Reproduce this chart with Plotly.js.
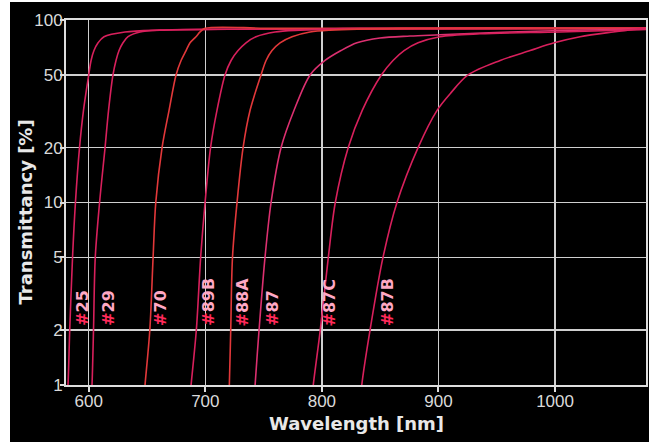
<!DOCTYPE html>
<html>
<head>
<meta charset="utf-8">
<script src="https://cdn.plot.ly/plotly-3.0.1.min.js"></script>
<style>
html,body{margin:0;padding:0;background:#ffffff;}
#chart{position:absolute;left:10px;top:2px;width:639px;height:440px;}
</style>
</head>
<body>
<div id="chart"></div>
<script>
// Filter transmittance curves (wavelength nm, transmittance %)
const wl25 = [581.5, 582.2, 583.7, 586.1, 588.6, 592.1, 595.5, 600, 602, 604.5, 608, 613.1, 631.1, 661, 720, 1078];
const t25  = [0.9, 1, 2, 5, 10, 20, 32, 50, 60, 68, 75, 81, 86, 88, 89, 90];

const wl29 = [602.3, 602.8, 604.1, 605.6, 609.3, 614, 617, 620.8, 623.4, 626, 629.4, 633.7, 644, 661.2, 720, 1078];
const t29  = [0.9, 1, 2, 5, 10, 20, 32, 50, 60, 68, 75, 81, 86, 88, 89, 90];

const wl70 = [647.8, 648.3, 652.4, 655.2, 657.5, 662.9, 668.9, 674.9, 679.2, 683.5, 686.9, 692, 695.5, 699.8, 760, 1078];
const t70  = [0.9, 1, 2, 5, 10, 20, 32, 50, 60, 68, 75, 81, 86, 90, 90, 90];

const wl89B = [687.2, 687.8, 692.3, 696, 699.8, 704.5, 710, 716.9, 722.1, 728.1, 734.9, 743.5, 759.8, 781.3, 832.7, 1078];
const t89B  = [0.9, 1, 2, 5, 10, 20, 32, 50, 60, 68, 75, 81, 86, 88, 90, 90];

const wl88A = [720.3, 720.6, 721.8, 723.3, 727.2, 732.4, 738.4, 747.8, 752.1, 757.2, 764.1, 774.4, 789.8, 807, 867, 1078];
const t88A  = [0.9, 1, 2, 5, 10, 20, 32, 50, 60, 68, 75, 81, 86, 88, 90, 90];

const wl87 = [742.3, 742.7, 746.1, 751.2, 756.4, 765, 776.1, 789.9, 802.7, 816.4, 830.1, 849.9, 875.6, 901.3, 961.3, 1038.6, 1078];
const t87  = [0.9, 1, 2, 5, 10, 20, 32, 50, 60, 68, 75, 79.7, 81.7, 83, 86, 88.5, 89.5];

const wl87C = [792, 792.6, 798.6, 805.5, 811.5, 822.6, 834.6, 851, 861, 870.5, 882.5, 901.3, 935.6, 1004.3, 1072.9, 1078];
const t87C  = [0.9, 1, 2, 5, 10, 20, 32, 50, 60, 68, 75, 81, 84, 86, 88.5, 88.7];

const wl87B = [833.6, 834.2, 841.3, 852.4, 864.4, 882.5, 898.8, 910.8, 925.4, 952.9, 978.6, 999.2, 1021.5, 1049.8, 1075.5, 1078];
const t87B  = [0.9, 1, 2, 5, 10, 20, 32, 40, 50, 60, 68, 75, 81, 86, 90, 90];

const filterNames = ['25', '29', '70', '89B', '88A', '87', '87C', '87B'];
const labelWl = [594, 616.3, 661, 702, 732.2, 757, 806.9, 855.8];

const yTickVals = [1, 2, 5, 10, 20, 50, 100];
const yTickText = ['1', '2', '5', '10', '20', '50', '100'];
const xTickVals = [600, 700, 800, 900, 1000];
const xTickText = ['600', '700', '800', '900', '1000'];

const series = [
  [wl25, t25, '#d8205c'],
  [wl29, t29, '#d8205c'],
  [wl70, t70, '#e2383a'],
  [wl89B, t89B, '#d8205c'],
  [wl88A, t88A, '#e2383a'],
  [wl87, t87, '#dc3070'],
  [wl87C, t87C, '#d8205c'],
  [wl87B, t87B, '#d8205c']
];

const traces = series.map((s, i) => ({
  x: s[0], y: s[1], type: 'scatter', mode: 'lines',
  name: '#' + filterNames[i],
  line: {color: s[2], width: 1.6, shape: 'spline', smoothing: 0.9},
  hoverinfo: 'skip'
}));

const annotations = filterNames.map((n, i) => ({
  x: labelWl[i], y: Math.log10(2), xref: 'x', yref: 'y',
  text: '<span style="color:#ff2a5a">#</span>' + n,
  showarrow: false, textangle: -90,
  xanchor: 'center', yanchor: 'bottom', yshift: 2,
  font: {family: 'DejaVu Sans', size: 16, color: '#ffa8c4', weight: 'bold'}
}));

annotations.push({
  text: 'Wavelength [nm]', xref: 'paper', yref: 'paper', x: 0.5, y: 0,
  xanchor: 'center', yanchor: 'middle', yshift: -38, showarrow: false,
  font: {family: 'DejaVu Sans', size: 18, color: '#e8e8e8', weight: 'bold'}
});
annotations.push({
  text: 'Transmittancy [%]', xref: 'paper', yref: 'paper', x: 0, y: 0.474,
  xanchor: 'center', yanchor: 'middle', xshift: -40.5, textangle: -90, showarrow: false,
  font: {family: 'DejaVu Sans', size: 18, color: '#e8e8e8', weight: 'bold'}
});

const layout = {
  width: 639, height: 440,
  margin: {l: 56, r: 3, t: 18, b: 57},
  paper_bgcolor: '#000000', plot_bgcolor: '#000000',
  showlegend: false,
  xaxis: {
    range: [580.5, 1078], tickvals: xTickVals, ticktext: xTickText,
    showgrid: true, gridcolor: '#cfcfcf', gridwidth: 1.5,
    showline: true, linecolor: '#dedede', linewidth: 2, mirror: true,
    ticks: 'outside', ticklen: 5, tickcolor: '#dedede', tickwidth: 2,
    tickfont: {family: 'Liberation Sans', size: 17, color: '#dadada'},
    ticklabelstandoff: -5,
    zeroline: false, fixedrange: true
  },
  yaxis: {
    type: 'log', range: [0, 2], tickvals: yTickVals, ticktext: yTickText,
    showgrid: true, gridcolor: '#cfcfcf', gridwidth: 1.5,
    showline: true, linecolor: '#dedede', linewidth: 2, mirror: true,
    ticks: 'outside', ticklen: 4, tickcolor: '#dedede', tickwidth: 2,
    tickfont: {family: 'Liberation Sans', size: 17, color: '#dadada'},
    ticklabelstandoff: -6,
    zeroline: false, fixedrange: true
  },
  annotations: annotations
};

Plotly.newPlot('chart', traces, layout, {displayModeBar: false, staticPlot: true});
</script>
</body>
</html>
